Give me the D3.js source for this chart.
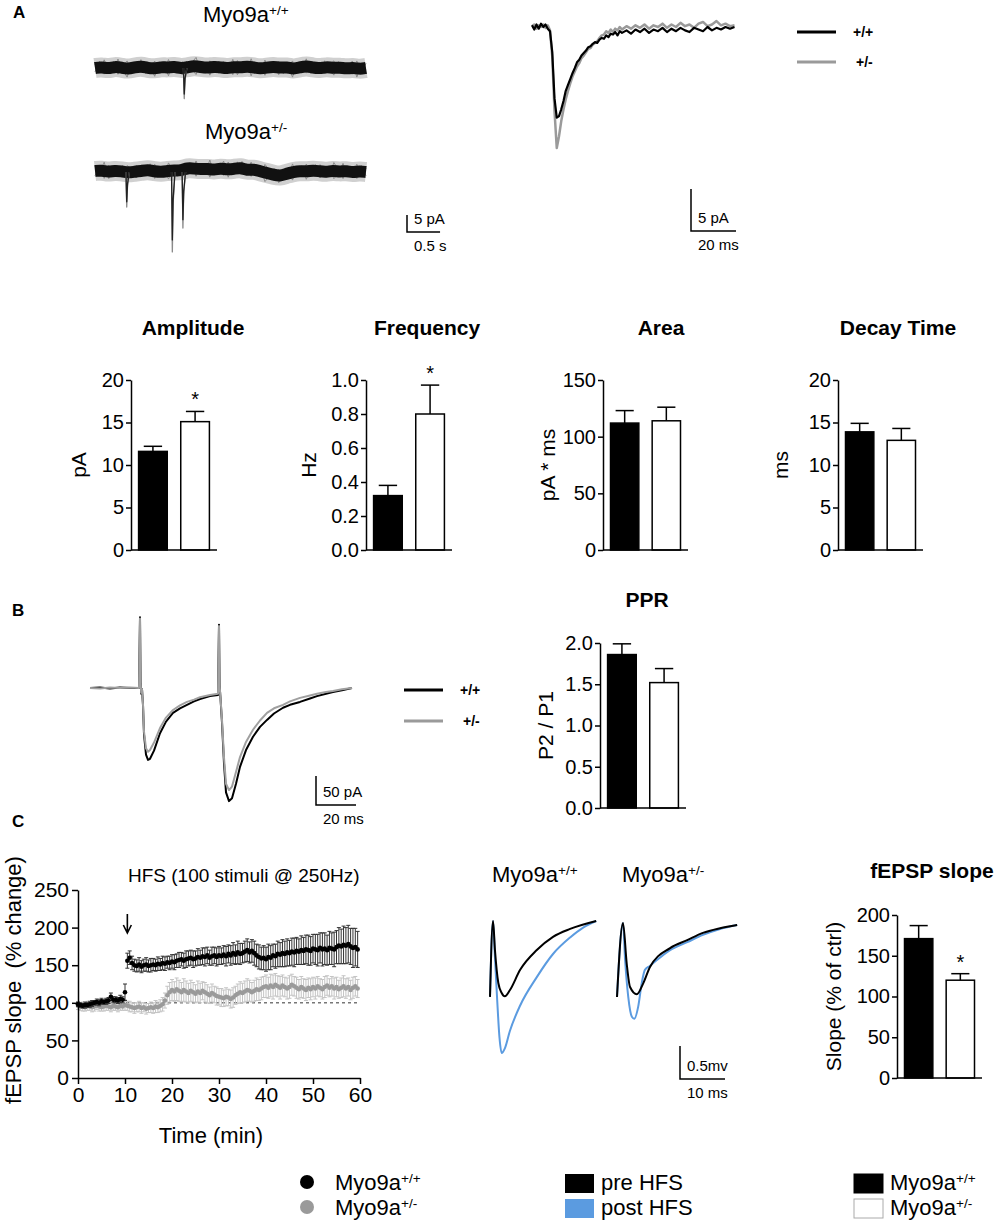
<!doctype html>
<html>
<head>
<meta charset="utf-8">
<title>Myo9a synaptic recordings</title>
<style>
  body { margin: 0; background: #fff; }
  svg { display: block; }
  text { font-family: 'Liberation Sans', Arial, Helvetica, sans-serif; fill: #000; }
</style>
<script src="https://d3js.org/d3.v7.min.js"></script>
</head>
<body>
<script>
// ---------------- data ----------------
const GENOTYPES = ["+/+", "+/-"];

// bar charts: mean and SEM for +/+ and +/-
const AMP_MEAN = [11.6, 15.1],  AMP_SEM = [0.6, 1.2];
const FREQ_MEAN = [0.32, 0.80], FREQ_SEM = [0.06, 0.17];
const AREA_MEAN = [112, 114],   AREA_SEM = [11, 12];
const DECAY_MEAN = [13.9, 12.9], DECAY_SEM = [1.0, 1.4];
const PPR_MEAN = [1.86, 1.52],  PPR_SEM = [0.13, 0.17];
const SLOPE_MEAN = [171, 120],  SLOPE_SEM = [16, 8];

// mEPSC raw traces: baseline drift (pA) every 0.1 s, events [time s, amplitude pA]
const RAW_WT = [0,0.3,-0.2,0.4,0.1,-0.3,0.2,0.5,0,-0.2,0.3,0.1,0.4,-0.1,0.2,0.6,0.3,0,0.4,0.2,-0.1,0.3,0.1,0.5,0.2,-0.2,0.1,0.4,0,0.3,-0.3,0.2,0.6,0.1,-0.1,0.3,0,0.2,-0.2,0.1,-0.3,0];
const RAW_HET = [0.3,0.5,0,0.4,0.2,-0.2,0.1,0.3,0.6,0.2,0,0.3,0.5,0.4,1.2,1.0,0.8,1.0,0.6,1.1,0.7,0.9,1.3,0.5,0.8,0.2,-0.3,-0.8,-1.2,-0.5,0,0.3,0.1,0.5,0.2,0,0.4,0.1,0.3,-0.1,0.2,0];
// recording noise seen on the raw traces (pA)
const RAW_NOISE = [0.8,-1.2,1.5,-0.6,1.1,-1.6,0.4,1.7,-1.0,0.9,-1.4,1.2,-0.3,1.6,-1.1,0.7,-1.7,1.0,-0.5,1.4,-1.3,0.6,1.8,-0.9,1.1,-1.5,0.3,1.3,-1.2,0.8,-1.6,1.5,-0.4,1.0,-1.8,0.9,-0.7,1.6,-1.1,0.5,-1.4,1.2,-0.2,1.7,-1.0,0.6,-1.5,1.3,-0.8,1.1,-1.3,0.4,1.5,-1.2,0.9,-0.6,1.4,-1.7,0.7,-1.0];
const EVENTS_WT = [[1.35, 9]];
const EVENTS_HET = [[0.48, 10.3], [1.17, 23.5], [1.33, 16.5]];

// averaged mEPSC [ms, pA]
const AVG_WT = [[0,0.2],[1,-0.3],[2,0.3],[3,-0.2],[4,0.4],[5,0],[6,0.3],[7,-0.2],[8,-0.5],[9,-3],[10,-8.5],[11,-10.8],[12,-10.6],[13,-9.8],[14,-8.8],[15,-7.6],[16,-6.9],[17,-6.2],[18,-5.5],[19,-4.9],[20,-4.2],[21,-3.9],[22,-3.4],[23,-3.1],[24,-2.8],[25,-2.4],[26,-2.3],[27,-2.0],[28,-1.8],[29,-1.9],[30,-1.5],[31,-1.3],[32,-1.4],[33,-1.0],[34,-1.2],[35,-0.8],[36,-0.9],[37,-0.6],[38,-1.0],[39,-0.5],[40,-0.7],[42,-0.4],[44,-0.8],[46,-0.3],[48,-0.6],[50,-0.2],[52,-0.7],[54,-0.3],[56,-0.5],[58,-0.1],[60,-0.6],[62,-0.2],[64,-0.5],[66,-0.1],[68,-0.4],[70,-0.6],[72,-0.1],[74,-0.3],[76,-0.5],[78,0],[80,-0.4],[82,-0.1],[84,-0.3],[86,0],[88,-0.2],[90,0]];
const AVG_HET = [[0,0.1],[1,0.3],[2,-0.2],[3,0.2],[4,0],[5,0.3],[6,-0.1],[7,0.2],[8,-0.4],[9,-3.5],[10,-10],[11,-14.4],[12,-13],[13,-11.2],[14,-9.8],[15,-8.6],[16,-7.6],[17,-6.7],[18,-5.9],[19,-5.3],[20,-4.7],[21,-4.3],[22,-3.7],[23,-3.4],[24,-3.0],[25,-2.6],[26,-2.5],[27,-2.1],[28,-1.9],[29,-1.7],[30,-1.3],[31,-1.0],[32,-0.9],[33,-0.5],[34,-0.7],[35,-0.3],[36,-0.6],[37,-0.2],[38,-0.4],[39,0],[40,-0.3],[42,0.1],[44,-0.2],[46,0.2],[48,-0.1],[50,0.3],[52,-0.2],[54,0.2],[56,0],[58,0.4],[60,-0.1],[62,0.3],[64,0],[66,0.5],[68,0.1],[70,0.3],[72,-0.1],[74,0.4],[76,0.6],[78,0.1],[80,0.3],[82,0.7],[84,0.2],[86,0.4],[88,0.1],[90,0.2]];

// paired pulse traces [ms, pA]
const PP_WT = [[0,0],[5,1],[10,-1],[15,1],[20,0],[24.5,0],[25,122],[25.3,10],[25.6,-10],[26,-2],[26.5,-30],[27,-80],[28,-115],[29,-124],[30,-122],[32,-108],[35,-78],[38,-58],[41.5,-43],[45,-35],[48.5,-29],[52,-23],[55,-19],[60,-14],[64,-12],[64.5,109],[64.8,5],[65.2,-15],[66,-60],[67,-130],[68,-180],[69.5,-195],[71,-190],[73,-165],[75,-136],[78,-107],[81.5,-84],[85,-67],[88.5,-55],[92,-44],[96.5,-34],[100,-29],[105,-24],[110,-18],[113.5,-14],[118,-10],[121.5,-7],[126,-4],[131,0]];
const PP_HET = [[0,0],[5,-1],[10,1],[15,0],[20,1],[24.5,0],[25,120],[25.3,8],[25.6,-8],[26,-2],[26.5,-28],[27,-75],[28,-104],[29,-110],[30,-107],[32,-94],[35,-69],[38,-51],[41.5,-38],[45,-30],[48.5,-24],[52,-20],[55,-16],[60,-12],[64,-10],[64.5,107],[64.8,5],[65.2,-14],[66,-55],[67,-120],[68,-165],[69.5,-176],[71,-170],[73,-145],[75,-119],[78,-93],[81.5,-72],[85,-56],[88.5,-43],[92,-35],[96.5,-29],[100,-23],[105,-17],[110,-13],[113.5,-10],[118,-7],[121.5,-5],[126,-2],[131,0]];

// LTP time course: % change every 0.5 min from 0 to 59.5
const LTP_STEP = 0.5;
const LTP_WT = [98,97,96,97,97,98,99,100,101,100,102,101,102,103,108,104,104,103,105,104,
  114,156,160,153,150,149,151,148,150,151,149,150,151,150,152,151,153,152,154,153,
  155,154,156,157,158,156,158,159,160,158,159,161,160,162,161,163,160,162,163,161,
  163,162,164,162,165,163,166,164,167,165,166,168,170,167,169,166,163,161,159,160,
  158,161,160,163,162,165,164,166,165,167,166,168,167,169,168,170,169,171,170,169,
  172,171,170,173,171,172,170,173,172,171,174,176,175,177,176,178,175,173,174,171];
const LTP_WT_SEM = [3,3,3,4,3,4,4,3,4,4,4,3,4,4,5,4,4,4,5,4,
  11,10,9,9,8,8,9,8,8,9,8,9,8,8,9,8,9,9,8,9,
  9,10,9,10,9,10,11,10,10,11,10,11,10,11,12,11,10,12,11,12,
  12,11,12,13,12,13,14,13,15,14,13,14,15,14,15,16,15,16,15,16,
  16,17,16,15,16,17,16,18,17,18,17,18,19,18,17,19,18,19,20,19,
  19,20,21,20,22,21,20,22,21,23,22,24,23,25,24,25,24,26,25,24];
const LTP_HET = [96,95,95,94,96,95,94,95,96,95,94,95,96,95,94,96,95,94,96,95,
  97,96,95,94,93,94,95,93,94,92,93,94,93,95,94,96,98,103,110,114,
  117,115,118,116,114,117,115,113,116,114,112,115,113,116,114,112,110,113,111,109,
  108,107,106,108,107,105,107,110,112,114,113,115,117,116,114,116,118,117,119,121,
  122,120,123,121,124,122,120,123,121,119,121,124,122,120,118,121,119,117,120,118,
  121,119,122,120,118,121,123,120,122,119,121,118,120,122,119,121,117,120,122,119];
const LTP_HET_SEM = [5,5,6,5,6,5,6,6,5,6,5,6,6,5,6,6,5,6,6,5,
  7,6,7,6,7,6,7,7,6,7,6,7,7,8,7,8,9,10,12,13,
  14,13,15,14,13,15,14,13,14,13,12,14,13,12,13,12,11,12,11,12,
  11,12,11,12,11,12,13,12,13,14,13,14,15,14,13,14,15,14,15,14,
  15,14,15,16,15,14,15,14,13,14,15,14,13,14,13,14,13,14,13,14,
  13,14,13,12,13,14,13,12,13,14,13,12,13,14,13,12,13,14,13,12];
const HFS_TIME = 10.5;

// fEPSP example traces [ms, mV] pre and post HFS
const FE_WT_PRE  = [[0,-1.15],[0.67,0],[1.1,-0.44],[1.85,-0.94],[2.6,-1.09],[3.3,-1.14],[4.4,-1.05],[6.7,-0.74],[10.4,-0.44],[14,-0.24],[17.8,-0.12],[23.6,0]];
const FE_WT_POST = [[0,-1.15],[0.67,0],[1.1,-0.55],[1.6,-1.2],[2.1,-1.76],[2.6,-2.0],[3.3,-1.93],[4.4,-1.67],[6.7,-1.28],[10.4,-0.85],[14,-0.5],[17.8,-0.25],[20.7,-0.1],[23.6,0]];
const FE_HET_PRE  = [[0,-1.09],[1.33,0.03],[2.15,-0.58],[2.9,-0.94],[4.4,-1.05],[5.85,-0.88],[7.3,-0.64],[11.8,-0.35],[15.6,-0.23],[19.1,-0.12],[22.9,-0.05],[26.7,0]];
const FE_HET_POST = [[0,-1.09],[1.33,0.03],[1.8,-0.53],[2.5,-1.09],[3.3,-1.39],[3.85,-1.42],[4.7,-1.24],[5.5,-0.88],[6.2,-0.68],[7.3,-0.62],[11.8,-0.38],[15.6,-0.26],[19.1,-0.15],[22.9,-0.06],[26.7,0]];

// ---------------- drawing ----------------
const svg = d3.select("body").append("svg").attr("width", 1000).attr("height", 1231);
svg.append("rect").attr("width", 1000).attr("height", 1231).attr("fill", "#fff");

function txt(x, y, s, size, opt) {
  opt = opt || {};
  return svg.append("text").attr("x", x).attr("y", y).text(s)
    .attr("font-size", size)
    .attr("font-weight", opt.bold ? "bold" : null)
    .attr("text-anchor", opt.anchor || "start");
}
function myo(x, y, sup, size) {
  const t = svg.append("text").attr("x", x).attr("y", y).attr("font-size", size);
  t.append("tspan").text("Myo9a");
  t.append("tspan").attr("dy", -size * 0.33).attr("font-size", size * 0.62).text(sup);
  return t;
}
function scaleBar(x, y, h, w, l1, l2) {
  svg.append("path").attr("d", `M${x},${y - h}V${y}H${x + w}`)
    .attr("fill", "none").attr("stroke", "#000").attr("stroke-width", 1.5);
  txt(x + 7, y - 8, l1, 15);
  txt(x + 7, y + 19, l2, 15);
}
function trace(data, xs, ys, color, width, curve) {
  return svg.append("path").datum(data)
    .attr("d", d3.line().x(d => xs(d[0])).y(d => ys(d[1])).curve(curve || d3.curveLinear))
    .attr("fill", "none").attr("stroke", color).attr("stroke-width", width)
    .attr("stroke-linejoin", "round");
}

// panel letters
txt(13, 18, "A", 17, {bold: true});
txt(12, 616, "B", 17, {bold: true});
txt(12, 827, "C", 17, {bold: true});

// ---- A: raw traces ----
myo(203, 22, "+/+", 22);
myo(205, 139, "+/-", 22);
const rawX = d3.scaleLinear().domain([0, 4.1]).range([95, 366]);
function rawTrace(drift, events, base, noise) {
  const ys = d3.scaleLinear().domain([0, -10]).range([base, base + 34]);
  const pts = drift.map((v, i) => [i * 0.1, v]);
  const n = noise.length;
  // noise sits on the drift, pushed out to the band edges
  const fuzz = noise.map((v, i) => {
    const t = i * 4.1 / (n - 1);
    return [t, drift[Math.round(t * 10)] + v * 1.4];
  });
  trace(pts, rawX, ys, "#d0d0d0", 20, d3.curveBasis);
  trace(fuzz, rawX, ys, "#8c8c8c", 1);
  trace(fuzz.map((p, i) => [p[0], -p[1] + 2 * drift[Math.round(p[0] * 10)]]), rawX, ys, "#8c8c8c", 1);
  trace(pts, rawX, ys, "#111", 12, d3.curveBasis);
  events.forEach(e => {
    const shape = [[e[0] - 0.012, 0], [e[0], -e[1]], [e[0] + 0.012, -0.4 * e[1]], [e[0] + 0.04, 0]];
    trace(shape, rawX, ys, "#8a8a8a", 1.3);
    trace(shape.map(p => [p[0], p[1] * 0.85]), rawX, ys, "#222", 1.3);
  });
  return ys;
}
const rawY = rawTrace(RAW_WT, EVENTS_WT, 68, RAW_NOISE);
rawTrace(RAW_HET, EVENTS_HET, 172, RAW_NOISE.slice().reverse());
scaleBar(407, 232, rawY(-5) - rawY(0), rawX(0.5) - rawX(0), "5 pA", "0.5 s");

// ---- A: averaged mEPSC ----
const avgX = d3.scaleLinear().domain([0, 90]).range([532, 734.5]);
const avgY = d3.scaleLinear().domain([0, -15]).range([27, 153]);
trace(AVG_HET, avgX, avgY, "#9a9a9a", 2.5);
trace(AVG_WT, avgX, avgY, "#000", 2.2);
scaleBar(691, 231, avgY(-5) - avgY(0), avgX(20) - avgX(0), "5 pA", "20 ms");
function lineLegend(x, y1, y2, size) {
  [[y1, "#000", "+/+", 0], [y2, "#9a9a9a", "+/-", 3]].forEach(r => {
    svg.append("line").attr("x1", x).attr("x2", x + 39).attr("y1", r[0]).attr("y2", r[0])
      .attr("stroke", r[1]).attr("stroke-width", 3);
    txt(x + 56 + r[3], r[0] + 5, r[2], size, {bold: true});
  });
}
lineLegend(797, 32, 62, 14);

// ---- bar charts ----
function barChart(c) {
  const y = d3.scaleLinear().domain(c.domain).range([c.y0, c.yTop]);
  const x = d3.scaleBand().domain(GENOTYPES).range([c.axisX, c.xEnd]).paddingInner(0.32).paddingOuter(0.18);
  const g = svg.append("g");
  const bw = x.bandwidth();
  GENOTYPES.forEach((k, i) => {
    const cx = x(k) + bw / 2, top = y(c.mean[i] + c.sem[i]);
    g.append("line").attr("x1", cx).attr("x2", cx).attr("y1", y(c.mean[i])).attr("y2", top)
      .attr("stroke", "#000").attr("stroke-width", 1.5);
    g.append("line").attr("x1", cx - bw * 0.32).attr("x2", cx + bw * 0.32).attr("y1", top).attr("y2", top)
      .attr("stroke", "#000").attr("stroke-width", 1.5);
    if (c.star && i === 1) txt(cx, top - 5, "*", 20, {anchor: "middle"});
  });
  g.selectAll("rect").data(GENOTYPES).join("rect")
    .attr("x", d => x(d)).attr("width", bw)
    .attr("y", (d, i) => y(c.mean[i])).attr("height", (d, i) => c.y0 - y(c.mean[i]))
    .attr("fill", (d, i) => i === 0 ? "#000" : "#fff")
    .attr("stroke", "#000").attr("stroke-width", 1.5);
  const ax = g.append("g").attr("transform", `translate(${c.axisX},0)`)
    .call(d3.axisLeft(y).tickValues(c.ticks).tickFormat(c.fmt).tickSize(5).tickSizeOuter(0));
  ax.selectAll("path,line").attr("stroke", "#000").attr("stroke-width", 1.5);
  ax.selectAll("text").attr("font-size", 20).attr("fill", "#000")
    .attr("font-family", "'Liberation Sans', Arial, sans-serif").attr("x", -7);
  g.append("line").attr("x1", c.axisX).attr("x2", c.xEnd).attr("y1", c.y0).attr("y2", c.y0)
    .attr("stroke", "#000").attr("stroke-width", 1.5);
  txt(c.titleX, c.titleY, c.title, 21, {bold: true, anchor: "middle"});
  svg.append("text").attr("transform", `translate(${c.labelX},${(c.y0 + c.yTop) / 2}) rotate(-90)`)
    .attr("text-anchor", "middle").attr("font-size", 21).text(c.label);
}

const f0 = d3.format("d"), f1 = d3.format(".1f");
barChart({mean: AMP_MEAN, sem: AMP_SEM, domain: [0, 20], ticks: [0, 5, 10, 15, 20], fmt: f0, star: true,
  axisX: 131, xEnd: 217, yTop: 380, y0: 550, title: "Amplitude", titleX: 193, titleY: 335, label: "pA", labelX: 86});
barChart({mean: FREQ_MEAN, sem: FREQ_SEM, domain: [0, 1], ticks: [0, 0.2, 0.4, 0.6, 0.8, 1.0], fmt: f1, star: true,
  axisX: 366, xEnd: 452, yTop: 380, y0: 550, title: "Frequency", titleX: 427, titleY: 335, label: "Hz", labelX: 316});
barChart({mean: AREA_MEAN, sem: AREA_SEM, domain: [0, 150], ticks: [0, 50, 100, 150], fmt: f0,
  axisX: 603, xEnd: 688, yTop: 380, y0: 550, title: "Area", titleX: 661, titleY: 335, label: "pA * ms", labelX: 555});
barChart({mean: DECAY_MEAN, sem: DECAY_SEM, domain: [0, 20], ticks: [0, 5, 10, 15, 20], fmt: f0,
  axisX: 838, xEnd: 923, yTop: 380, y0: 550, title: "Decay Time", titleX: 898, titleY: 335, label: "ms", labelX: 788});
barChart({mean: PPR_MEAN, sem: PPR_SEM, domain: [0, 2], ticks: [0, 0.5, 1, 1.5, 2], fmt: f1,
  axisX: 600, xEnd: 686, yTop: 643, y0: 808, title: "PPR", titleX: 647, titleY: 607, label: "P2 / P1", labelX: 553});
barChart({mean: SLOPE_MEAN, sem: SLOPE_SEM, domain: [0, 200], ticks: [0, 50, 100, 150, 200], fmt: f0, star: true,
  axisX: 897, xEnd: 982, yTop: 915, y0: 1078, title: "fEPSP slope", titleX: 932, titleY: 878, label: "Slope (% of ctrl)", labelX: 841});

// ---- B: paired pulse ----
const ppX = d3.scaleLinear().domain([0, 131]).range([90, 352]);
const ppY = d3.scaleLinear().domain([-200, 0]).range([804, 688]);
trace(PP_WT, ppX, ppY, "#000", 2);
trace(PP_HET, ppX, ppY, "#a0a0a0", 2);
scaleBar(316, 805, ppY(0) - ppY(50), ppX(20) - ppX(0), "50 pA", "20 ms");
lineLegend(404, 690, 721, 14);

// ---- C: LTP time course ----
const lx = d3.scaleLinear().domain([0, 60]).range([78, 360]);
const ly = d3.scaleLinear().domain([0, 250]).range([1078, 890]);
svg.append("line").attr("x1", lx(0)).attr("x2", lx(60)).attr("y1", ly(100)).attr("y2", ly(100))
  .attr("stroke", "#777").attr("stroke-width", 1.5).attr("stroke-dasharray", "3,3");
function ltpSeries(vals, sem, mark, bar) {
  const g = svg.append("g");
  vals.forEach((v, i) => {
    const x = lx(i * LTP_STEP);
    g.append("path").attr("d", `M${x},${ly(v - sem[i])}V${ly(v + sem[i])}M${x - 2},${ly(v + sem[i])}H${x + 2}M${x - 2},${ly(v - sem[i])}H${x + 2}`)
      .attr("stroke", bar).attr("stroke-width", 1).attr("fill", "none");
  });
  g.selectAll("circle").data(vals).join("circle")
    .attr("cx", (d, i) => lx(i * LTP_STEP)).attr("cy", d => ly(d)).attr("r", 2.3).attr("fill", mark);
}
ltpSeries(LTP_HET, LTP_HET_SEM, "#9a9a9a", "#c4c4c4");
ltpSeries(LTP_WT, LTP_WT_SEM, "#000", "#333");
const axY = svg.append("g").attr("transform", `translate(${lx(0)},0)`)
  .call(d3.axisLeft(ly).tickValues([0, 50, 100, 150, 200, 250]).tickSize(6).tickSizeOuter(0));
const axX = svg.append("g").attr("transform", `translate(0,${ly(0)})`)
  .call(d3.axisBottom(lx).tickValues([0, 10, 20, 30, 40, 50, 60]).tickSize(6).tickSizeOuter(0));
[axY, axX].forEach(a => {
  a.selectAll("path,line").attr("stroke", "#000").attr("stroke-width", 1.5);
  a.selectAll("text").attr("font-size", 21).attr("fill", "#000")
    .attr("font-family", "'Liberation Sans', Arial, sans-serif");
});
txt(lx(30) - 8, 1143, "Time (min)", 22, {anchor: "middle"});
svg.append("text").attr("transform", `translate(21,980) rotate(-90)`).attr("text-anchor", "middle")
  .attr("font-size", 22).style("white-space", "pre").text("fEPSP slope  (% change)");
txt(128, 882, "HFS (100 stimuli @ 250Hz)", 19);
const ax0 = lx(HFS_TIME);
svg.append("path").attr("d", `M${ax0},914V933M${ax0 - 4},925L${ax0},933L${ax0 + 4},925`)
  .attr("stroke", "#000").attr("stroke-width", 1.6).attr("fill", "none");

// ---- C: fEPSP example traces ----
myo(492, 882, "+/+", 22);
myo(622, 882, "+/-", 22);
const BLUE = "#5b9be0";
const feY1 = d3.scaleLinear().domain([0, -1]).range([921, 987]);
const feY2 = d3.scaleLinear().domain([0, -1]).range([925, 991]);
const feX1 = d3.scaleLinear().domain([0, 10]).range([490, 535]);
const feX2 = d3.scaleLinear().domain([0, 10]).range([617, 662]);
trace(FE_WT_POST, feX1, feY1, BLUE, 2, d3.curveMonotoneX);
trace(FE_WT_PRE, feX1, feY1, "#000", 2, d3.curveMonotoneX);
trace(FE_HET_POST, feX2, feY2, BLUE, 2, d3.curveMonotoneX);
trace(FE_HET_PRE, feX2, feY2, "#000", 2, d3.curveMonotoneX);
scaleBar(680, 1079, feY1(-0.5) - feY1(0), feX1(10) - feX1(0), "0.5mv", "10 ms");

// ---- bottom legends ----
[[1182, "#000", "+/+"], [1207, "#9a9a9a", "+/-"]].forEach(r => {
  svg.append("circle").attr("cx", 307).attr("cy", r[0]).attr("r", 7).attr("fill", r[1]);
  myo(335, r[0] + 8, r[2], 22);
});
[[1174, "#000", "pre HFS"], [1199, BLUE, "post HFS"]].forEach(r => {
  svg.append("rect").attr("x", 565).attr("y", r[0]).attr("width", 29).attr("height", 19).attr("fill", r[1]);
  txt(601, r[0] + 16, r[2], 22);
});
[[1174, "#000", "#000", "+/+"], [1199, "#fff", "#aaa", "+/-"]].forEach(r => {
  svg.append("rect").attr("x", 854).attr("y", r[0]).attr("width", 29).attr("height", 19)
    .attr("fill", r[1]).attr("stroke", r[2]).attr("stroke-width", 1);
  myo(890, r[0] + 16, r[3], 22);
});
</script>
</body>
</html>
